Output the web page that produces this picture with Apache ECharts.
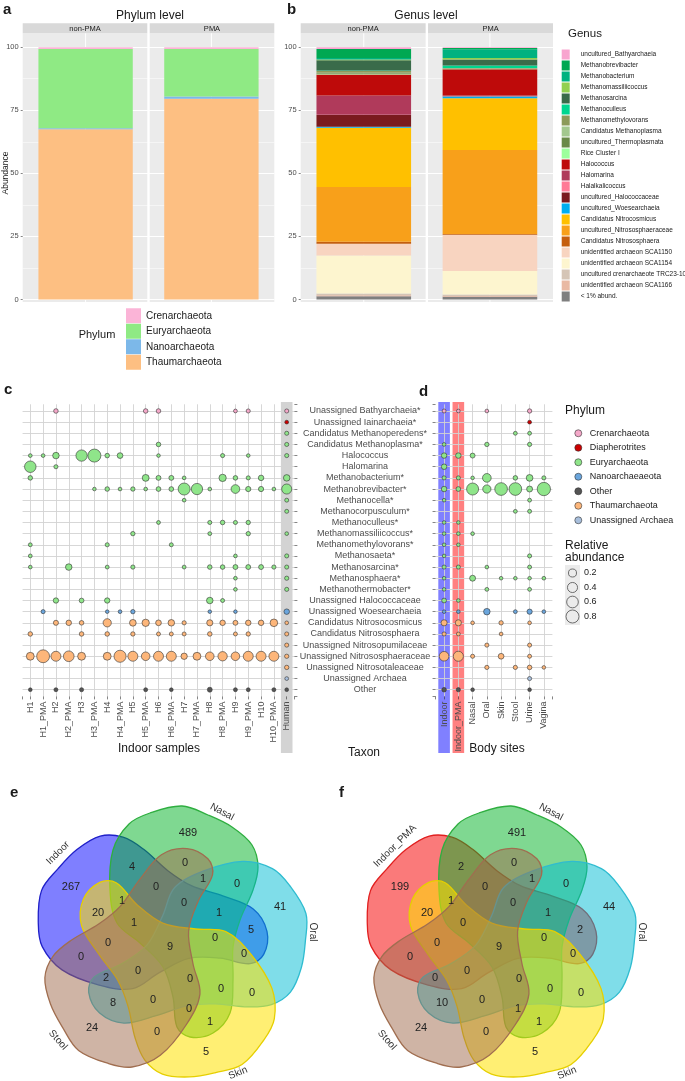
<!DOCTYPE html>
<html><head><meta charset="utf-8">
<script src="https://cdn.jsdelivr.net/npm/echarts@6/dist/echarts.min.js"></script>
<style>html,body{margin:0;padding:0;background:#fff}#chart{width:685px;height:1081px}</style>
</head><body><div id="chart"></div>
<script>
const FONT = '"Liberation Sans", Arial, Helvetica, sans-serif';

// ---------- Panel a : phylum level ----------
const facets = ['non-PMA', 'PMA'];
const phylaA = ['Crenarchaeota', 'Euryarchaeota', 'Nanoarchaeota', 'Thaumarchaeota'];
const phylaAColors = ['#fbb4d7', '#8fea84', '#7cb8e9', '#fdbf82'];
const phylumNonPMA = [0.7, 31.4, 0.4, 67.5];
const phylumPMA = [0.7, 18.8, 0.9, 79.6];
const abundanceTicks = [0, 25, 50, 75, 100];

// ---------- Panel b : genus level ----------
const genera = ['uncultured_Bathyarchaeia', 'Methanobrevibacter', 'Methanobacterium', 'Methanomassiliicoccus',
  'Methanosarcina', 'Methanoculleus', 'Methanomethylovorans', 'Candidatus Methanoplasma', 'uncultured_Thermoplasmata',
  'Rice Cluster I', 'Halococcus', 'Halomarina', 'Halalkalicoccus', 'uncultured_Halococcaceae', 'uncultured_Woesearchaeia',
  'Candidatus Nitrocosmicus', 'uncultured_Nitrososphaeraceae', 'Candidatus Nitrososphaera', 'unidentified archaeon SCA1150',
  'unidentified archaeon SCA1154', 'uncultured crenarchaeote TRC23-10', 'unidentified archaeon SCA1166', '< 1% abund.'];
const genusColors = ['#f8a5cf', '#00a852', '#00b280', '#92d050', '#3a6b4a', '#00d68f', '#8c9a5a', '#a3c88e', '#698a47',
  '#9cff9c', '#be0a0a', '#b03a5b', '#ff7b96', '#7a1a1e', '#00aeef', '#ffc000', '#f8a01a', '#c55e0e', '#f8d4c0',
  '#fdf5cf', '#d5c5b6', '#e9b9a3', '#7f7f7f'];
const genusNonPMA = [0.7, 3.55, 0.65, 0.3, 4.0, 0.2, 0.7, 0.2, 0.3, 0.2, 8.3, 7.7, 0.1, 4.6, 0.4, 23.5, 21.7, 0.8, 4.7, 15.0, 0.7, 0.4, 1.3];
const genusPMA = [0.3, 0.5, 3.5, 0.6, 2.4, 0.9, 0.2, 0.1, 0.1, 0.1, 10.4, 0.2, 0.1, 0.1, 0.7, 20.5, 33.3, 0.3, 14.4, 9.3, 0.6, 0.3, 1.1];

// ---------- Panels c / d : bubble matrices ----------
const cSamples = ['H1', 'H1_PMA', 'H2', 'H2_PMA', 'H3', 'H3_PMA', 'H4', 'H4_PMA', 'H5', 'H5_PMA', 'H6', 'H6_PMA',
  'H7', 'H7_PMA', 'H8', 'H8_PMA', 'H9', 'H9_PMA', 'H10', 'H10_PMA', 'Human'];
const dSites = ['Indoor', 'Indoor_PMA', 'Nasal', 'Oral', 'Skin', 'Stool', 'Urine', 'Vagina'];
const taxa = ['Unassigned Bathyarchaeia*', 'Unassigned Iainarchaeia*', 'Candidatus Methanoperedens*', 'Candidatus Methanoplasma*',
  'Halococcus', 'Halomarina', 'Methanobacterium*', 'Methanobrevibacter*', 'Methanocella*', 'Methanocorpusculum*',
  'Methanoculleus*', 'Methanomassiliicoccus*', 'Methanomethylovorans*', 'Methanosaeta*', 'Methanosarcina*',
  'Methanosphaera*', 'Methanothermobacter*', 'Unassigned Halococcaceae', 'Unassigned Woesearchaeia',
  'Candidatus Nitrosocosmicus', 'Candidatus Nitrososphaera', 'Unassigned Nitrosopumilaceae',
  'Unassigned Nitrososphaeraceae', 'Unassigned Nitrosotaleaceae', 'Unassigned Archaea', 'Other'];
const taxonPhylum = ['Crenarchaeota', 'Diapherotrites',
  'Euryarchaeota', 'Euryarchaeota', 'Euryarchaeota', 'Euryarchaeota', 'Euryarchaeota', 'Euryarchaeota', 'Euryarchaeota', 'Euryarchaeota',
  'Euryarchaeota', 'Euryarchaeota', 'Euryarchaeota', 'Euryarchaeota', 'Euryarchaeota', 'Euryarchaeota', 'Euryarchaeota', 'Euryarchaeota',
  'Nanoarchaeaeota', 'Thaumarchaeota', 'Thaumarchaeota', 'Thaumarchaeota', 'Thaumarchaeota', 'Thaumarchaeota',
  'Unassigned Archaea', 'Other'];
const phylaC = ['Crenarchaeota', 'Diapherotrites', 'Euryarchaeota', 'Nanoarchaeaeota', 'Other', 'Thaumarchaeota', 'Unassigned Archaea'];
const phylaCColors = ['#f4a8c9', '#cc0000', '#8fe58a', '#6aa5dc', '#545454', '#fdb67a', '#a8bfdc'];
const sizeLegendValues = [0.2, 0.4, 0.6, 0.8];

// rows = taxa, columns = cSamples
const indoorAbund = [
  [0, 0, .02, 0, 0, 0, 0, 0, 0, .02, .02, 0, 0, 0, 0, 0, .005, .01, 0, 0, .01],
  [0, 0, 0, 0, 0, 0, 0, 0, 0, 0, 0, 0, 0, 0, 0, 0, 0, 0, 0, 0, .005],
  [0, 0, 0, 0, 0, 0, 0, 0, 0, 0, 0, 0, 0, 0, 0, 0, 0, 0, 0, 0, .01],
  [0, 0, 0, 0, 0, 0, 0, 0, 0, 0, .02, 0, 0, 0, 0, 0, 0, 0, 0, 0, .01],
  [.004, .004, .1, 0, .55, .8, .02, .06, 0, 0, .003, 0, 0, 0, 0, .01, 0, .003, 0, 0, .01],
  [.58, 0, .01, 0, 0, 0, 0, 0, 0, 0, 0, 0, 0, 0, 0, 0, 0, 0, 0, 0, 0],
  [.02, 0, 0, 0, 0, 0, 0, 0, 0, .12, .03, .03, .004, 0, 0, .15, .02, .01, .05, 0, .1],
  [0, 0, 0, 0, 0, .003, .02, .004, .015, .004, .025, .025, .65, .55, .004, 0, .26, .04, .04, .004, .4],
  [0, 0, 0, 0, 0, 0, 0, 0, 0, 0, 0, 0, .004, 0, 0, 0, 0, 0, 0, 0, .008],
  [0, 0, 0, 0, 0, 0, 0, 0, 0, 0, 0, 0, 0, 0, 0, 0, 0, 0, 0, 0, .008],
  [0, 0, 0, 0, 0, 0, 0, 0, 0, 0, .006, 0, 0, 0, .01, .02, .01, .015, 0, 0, 0],
  [0, 0, 0, 0, 0, 0, 0, 0, .015, 0, 0, 0, 0, 0, .006, 0, 0, .015, 0, 0, .004],
  [.006, 0, 0, 0, 0, 0, .01, 0, 0, 0, 0, .008, 0, 0, 0, 0, 0, 0, 0, 0, 0],
  [.005, 0, 0, 0, 0, 0, 0, 0, 0, 0, 0, 0, 0, 0, 0, 0, .004, 0, 0, 0, .01],
  [.004, 0, 0, .1, 0, 0, .006, 0, .012, 0, 0, 0, .006, 0, .02, .02, .03, .03, .03, .012, .01],
  [0, 0, 0, 0, 0, 0, 0, 0, 0, 0, 0, 0, 0, 0, 0, 0, .004, 0, 0, 0, .012],
  [0, 0, 0, 0, 0, 0, 0, 0, 0, 0, 0, 0, 0, 0, 0, 0, .004, 0, 0, 0, .01],
  [0, 0, .045, 0, .025, 0, .045, 0, 0, 0, 0, 0, 0, 0, .1, .008, 0, 0, 0, 0, 0],
  [0, .01, 0, 0, 0, 0, .003, .004, .015, 0, 0, 0, 0, 0, .003, 0, .003, 0, 0, 0, .05],
  [0, 0, .035, .05, .02, 0, .22, 0, .11, .15, .06, .1, .012, 0, .08, .05, .03, .05, .05, .17, .004],
  [.02, 0, 0, 0, .02, 0, .02, 0, .015, 0, .008, .008, .008, 0, .02, 0, .008, .015, 0, 0, .01],
  [0, 0, 0, 0, 0, 0, 0, 0, 0, 0, 0, 0, 0, 0, 0, 0, 0, 0, 0, 0, .01],
  [.19, .78, .39, .47, .19, 0, .19, .66, .39, .25, .39, .39, .09, .19, .25, .32, .25, .39, .39, .39, .013],
  [0, 0, 0, 0, 0, 0, 0, 0, 0, 0, 0, 0, 0, 0, 0, 0, 0, 0, 0, 0, .015],
  [0, 0, 0, 0, 0, 0, 0, 0, 0, 0, 0, 0, 0, 0, 0, 0, 0, 0, 0, 0, .005],
  [.004, 0, .008, 0, .01, 0, 0, 0, 0, .008, 0, .004, 0, 0, .03, 0, .008, .006, 0, .008, .004]
];
// rows = taxa, columns = dSites
const siteAbund = [
  [.008, .004, 0, .004, 0, 0, .015, 0],
  [0, 0, 0, 0, 0, 0, .006, 0],
  [0, 0, 0, 0, 0, .006, .006, 0],
  [.004, 0, 0, .015, 0, 0, .012, 0],
  [.05, .05, .03, 0, 0, 0, 0, 0],
  [.05, 0, 0, 0, 0, 0, 0, 0],
  [.01, .01, .003, .26, 0, .02, .11, .01],
  [.05, .025, .65, .22, .75, .75, .07, .85],
  [.003, 0, 0, 0, 0, 0, .006, 0],
  [0, 0, 0, 0, 0, .006, .008, 0],
  [.003, .003, 0, 0, 0, 0, 0, 0],
  [.003, .004, .004, 0, 0, 0, 0, 0],
  [.003, .003, 0, 0, 0, 0, 0, 0],
  [.003, 0, 0, 0, 0, 0, .01, 0],
  [.01, .01, 0, .004, 0, 0, .008, 0],
  [.003, 0, .07, 0, .003, .003, .003, .004],
  [.003, 0, 0, .006, 0, 0, .006, 0],
  [.025, .004, 0, 0, 0, 0, 0, 0],
  [.003, .004, 0, .1, 0, .006, .04, .004],
  [.08, .08, .004, 0, .015, 0, .004, 0],
  [.01, .006, 0, 0, .004, 0, 0, 0],
  [0, 0, 0, .01, 0, 0, .01, 0],
  [.35, .4, .01, 0, .06, 0, .008, 0],
  [0, 0, 0, .012, 0, .012, .02, .003],
  [0, 0, 0, 0, 0, 0, .01, 0],
  [.02, .012, .004, 0, 0, 0, .004, 0]
];

// ---------- Panels e / f : Venn counts ----------
const vennSetsE = ['Indoor', 'Nasal', 'Oral', 'Skin', 'Stool'];
const vennSetsF = ['Indoor_PMA', 'Nasal', 'Oral', 'Skin', 'Stool'];
const vennCountsE = [489, 267, 41, 24, 5, 4, 0, 1, 0, 0, 1, 20, 0, 1, 1, 5, 0, 9, 0, 0, 0, 0, 2, 0, 0, 0, 8, 0, 0, 1, 0];
const vennCountsF = [491, 199, 44, 24, 5, 2, 0, 1, 0, 0, 1, 20, 0, 1, 0, 2, 0, 9, 0, 0, 0, 0, 0, 0, 0, 0, 10, 0, 1, 1, 0];

// ---------- layout (positions / shapes / styles) ----------
const vennRegionPos = [[18, -112], [-99, -58], [110, -38], [-78, 83], [36, 107], [-38, -78], [15, -82], [33, -66], [67, -61],
  [-14, -58], [-48, -44], [-72, -32], [14, -42], [49, -32], [-36, -22], [81, -15], [-62, -2], [0, 2], [45, -7], [-89, 12],
  [74, 9], [-32, 26], [-64, 33], [20, 34], [51, 44], [82, 48], [-57, 58], [-17, 55], [19, 64], [40, 77], [-13, 87]];
const vennShape = [[38, -130], [62, -118], [82, -100], [88, -78], [83, -55], [70, -25], [63, 2], [63, 35], [60, 68], [43, 88],
  [20, 92], [7, 82], [3, 52], [-7, 22], [-30, -2], [-53, -22], [-60, -55], [-57, -95], [-41, -121], [-20, -132], [12, -139]];
const vennAngles = [-72, 0, 72, 144, 216];
const vennLabelPos = [[-112, -92, 45], [52, -133, -28], [143, -13, -90], [68, 128, 22], [-112, 95, -48]];

const chart = echarts.init(document.getElementById('chart'), null, {renderer: 'canvas', width: 685, height: 1081});

const G = {
  a: {left: 22.7, top: 47.2, width: 251.6, height: 252.3},
  b: {left: 300.7, top: 47.2, width: 252.3, height: 252.3},
  c: {left: 22.6, top: 404.3, width: 271.8, height: 292.1},
  d: {left: 435.55, top: 404.3, width: 116.85, height: 292.1}
};
const elements = [];
function text(x, y, s, o) {
  o = o || {};
  elements.push({type: 'text', x: x, y: y, z: o.z == null ? 20 : o.z, rotation: (o.rot || 0) * Math.PI / 180,
    style: {text: s, fill: o.color || '#1a1a1a', fontSize: o.size || 10, fontFamily: FONT, fontWeight: o.weight || 'normal',
      align: o.align || 'left', verticalAlign: o.valign || 'middle', lineHeight: o.lh}});
}
function rect(x, y, w, h, fill, z) {
  elements.push({type: 'rect', z: z, shape: {x: x, y: y, width: w, height: h}, style: {fill: fill}});
}

// facet panels for a and b
[['a', G.a], ['b', G.b]].forEach(function (p) {
  const g = p[1];
  const half = g.width / 2;
  for (let i = 0; i < 2; i++) {
    const x0 = g.left + i * half + (i === 0 ? 0 : 1.2);
    const w = half - 1.2;
    rect(x0, 33.3, w, 268.7, '#ebebeb', -3);
    rect(x0, 23.3, w, 10, '#d9d9d9', -3);
    text(x0 + w / 2, 28.5, facets[i], {size: 7.5, align: 'center'});
    const cx = g.left + half * (i + 0.5);
    elements.push({type: 'line', z: -2, shape: {x1: cx, y1: 33.3, x2: cx, y2: 302}, style: {stroke: '#fff', lineWidth: 1}});
  }
});
text(3, 10, 'a', {size: 15, weight: 'bold'});
text(287, 10, 'b', {size: 15, weight: 'bold'});
text(150, 16, 'Phylum level', {size: 12, align: 'center'});
text(426, 16, 'Genus level', {size: 12, align: 'center'});
text(6, 173, 'Abundance', {size: 8.5, align: 'center', rot: 90});
text(97, 335, 'Phylum', {size: 11, align: 'center'});
text(568, 34, 'Genus', {size: 11.5});

// c / d decorations
text(4, 390, 'c', {size: 15, weight: 'bold'});
text(419, 392, 'd', {size: 15, weight: 'bold'});
const colW = G.c.width / 21.2;
rect(G.c.left + (21 - 0.4) * colW - 5.8, 402, 11.6, 351, '#d3d3d3', -1);
const dColW = G.d.width / 8.2;
rect(G.d.left + 0.6 * dColW - 5.8, 402, 11.6, 351, '#8080ff', -1);
rect(G.d.left + 1.6 * dColW - 5.8, 402, 11.6, 351, '#ff8080', -1);
text(159, 749, 'Indoor samples', {size: 12, align: 'center'});
text(364, 753, 'Taxon', {size: 12, align: 'center'});
text(497, 749, 'Body sites', {size: 12, align: 'center'});
text(565, 411, 'Phylum', {size: 12});
text(565, 552, 'Relative\nabundance', {size: 12, lh: 12});
rect(565, 565, 15, 60, '#ebebeb', 5);
const bubble = function (v) { return 3 + 11.2 * Math.sqrt(v); };
sizeLegendValues.forEach(function (v, i) {
  const y = 573 + i * 14.5;
  elements.push({type: 'circle', z: 6, shape: {cx: 572.5, cy: y, r: bubble(v) / 2}, style: {fill: 'none', stroke: '#4d4d4d', lineWidth: 0.8}});
  text(584, y, String(v), {size: 9});
});

// Venn diagrams
function rot(pt, deg) {
  const a = deg * Math.PI / 180;
  return [pt[0] * Math.cos(a) - pt[1] * Math.sin(a), pt[0] * Math.sin(a) + pt[1] * Math.cos(a)];
}
function venn(cx, cy, sets, counts, fills, strokes, label, labelPos) {
  sets.forEach(function (s, k) {
    const pts = vennShape.map(function (p) { const r = rot(p, vennAngles[k]); return [cx + r[0], cy + r[1]]; });
    elements.push({type: 'polygon', z: 8, shape: {points: pts, smooth: 0.35},
      style: {fill: fills[k], stroke: strokes[k], lineWidth: 1.3}});
    const lp = labelPos[k];
    text(cx + lp[0], cy + lp[1], s, {size: 10, align: 'center', rot: lp[2], color: '#333'});
  });
  counts.forEach(function (n, i) {
    text(cx + vennRegionPos[i][0], cy + vennRegionPos[i][1], String(n), {size: 11, align: 'center', color: '#222'});
  });
  text(cx - 160, cy - 152, label, {size: 15, weight: 'bold'});
}
const baseFills = ['rgba(0,178,36,0.5)', 'rgba(0,188,212,0.5)', 'rgba(255,226,0,0.55)', 'rgba(160,105,75,0.5)'];
const baseStrokes = ['#2fae40', '#2fbcd0', '#e6cf00', '#a06e50'];
venn(170, 945, vennSetsE, vennCountsE, ['rgba(0,0,255,0.5)'].concat(baseFills), ['#2020c8'].concat(baseStrokes), 'e', vennLabelPos);
const labelPosF = vennLabelPos.slice(); labelPosF[0] = [-104, -99, 45];
venn(499, 945, vennSetsF, vennCountsF, ['rgba(245,0,0,0.52)'].concat(baseFills), ['#e02020'].concat(baseStrokes), 'f', labelPosF);

// ---------- series ----------
const series = [];
for (let i = phylaA.length - 1; i >= 0; i--) {
  series.push({type: 'bar', name: phylaA[i], stack: 'a', xAxisIndex: 0, yAxisIndex: 0, barWidth: '75%',
    data: [phylumNonPMA[i], phylumPMA[i]], itemStyle: {color: phylaAColors[i], borderWidth: 0}});
}
for (let i = genera.length - 1; i >= 0; i--) {
  series.push({type: 'bar', name: genera[i], stack: 'b', xAxisIndex: 1, yAxisIndex: 1, barWidth: '75%',
    data: [genusNonPMA[i], genusPMA[i]], itemStyle: {color: genusColors[i], borderWidth: 0}});
}
function bubbles(matrix, axisIdx) {
  phylaC.forEach(function (ph, k) {
    const data = [];
    matrix.forEach(function (row, r) {
      if (taxonPhylum[r] !== ph) return;
      row.forEach(function (v, c) { if (v > 0) data.push([c + 1, r + 1, v]); });
    });
    series.push({type: 'scatter', name: ph, xAxisIndex: axisIdx, yAxisIndex: axisIdx, data: data,
      symbolSize: function (val) { return bubble(val[2]); },
      itemStyle: {color: phylaCColors[k], borderColor: '#333', borderWidth: 0.6, opacity: 1}, z: 4});
  });
}
bubbles(indoorAbund, 2);
bubbles(siteAbund, 3);

function catLabel(list) {
  return function (v) { const r = Math.round(v); return (Math.abs(v - r) < 1e-6 && r >= 1 && r <= list.length) ? list[r - 1] : ''; };
}
const gridLine = {show: true, showMinLine: false, showMaxLine: false, lineStyle: {color: '#d3d3d3', width: 0.9}};
const tick = {show: true, length: 3, lineStyle: {color: '#333', width: 0.6}};
function valueAxis(gi, n, extra) {
  return Object.assign({type: 'value', gridIndex: gi, min: 0.4, max: n + 0.6, minInterval: 1, maxInterval: 1,
    axisLine: {show: false}, axisTick: tick, splitLine: gridLine}, extra);
}
function abundanceAxis(gi, showLabel) {
  return {type: 'value', gridIndex: gi, min: abundanceTicks[0], max: abundanceTicks[abundanceTicks.length - 1], interval: 25,
    axisLine: {show: false}, axisTick: {show: true, length: 2, lineStyle: {color: '#333', width: 0.6}},
    axisLabel: {show: showLabel, fontSize: 7.5, color: '#4d4d4d', margin: 4, fontFamily: FONT},
    splitLine: {show: true, lineStyle: {color: '#ffffff', width: 1.1}},
    minorTick: {show: false, splitNumber: 2}, minorSplitLine: {show: true, lineStyle: {color: '#ffffff', width: 0.5}}};
}
function facetAxis(gi) {
  return {type: 'category', gridIndex: gi, data: facets, axisLine: {show: false}, axisTick: {show: false},
    axisLabel: {show: false}, splitLine: {show: false}};
}
const gridOf = function (g) { return Object.assign({outerBoundsMode: 'none', containLabel: false}, g); };

const option = {
  animation: false,
  backgroundColor: '#ffffff',
  textStyle: {fontFamily: FONT},
  grid: [gridOf(G.a), gridOf(G.b), gridOf(G.c), gridOf(G.d)],
  xAxis: [facetAxis(0), facetAxis(1),
    valueAxis(2, 21, {axisLabel: {rotate: 90, fontSize: 9, color: '#4d4d4d', margin: 5, formatter: catLabel(cSamples)}}),
    valueAxis(3, 8, {axisLabel: {rotate: 90, fontSize: 9, color: '#4d4d4d', margin: 5, formatter: catLabel(dSites)}})],
  yAxis: [abundanceAxis(0, true), abundanceAxis(1, true),
    valueAxis(2, 26, {inverse: true, position: 'right', axisLabel: {show: false}}),
    valueAxis(3, 26, {inverse: true, position: 'left',
      axisLabel: {align: 'center', margin: 70.5, fontSize: 9, color: '#4d4d4d', formatter: catLabel(taxa)}})],
  legend: [
    {orient: 'vertical', left: 121, top: 303, itemWidth: 15, itemHeight: 15, itemGap: 0, selectedMode: false,
      textStyle: {fontSize: 10, color: '#1a1a1a', lineHeight: 15.5},
      data: phylaA.map(function (n, i) { return {name: n, icon: 'rect', itemStyle: {color: phylaAColors[i], borderWidth: 0}}; })},
    {orient: 'vertical', left: 556.7, top: 44, itemWidth: 8, itemHeight: 10, itemGap: 0, selectedMode: false,
      textStyle: {fontSize: 6.5, color: '#1a1a1a', lineHeight: 11, padding: [0, 0, 0, 6]},
      data: genera.map(function (n, i) { return {name: n, icon: 'rect', itemStyle: {color: genusColors[i], borderWidth: 0}}; })},
    {orient: 'vertical', left: 569.5, top: 421, itemWidth: 7, itemHeight: 7, itemGap: 0, selectedMode: false,
      textStyle: {fontSize: 9, color: '#1a1a1a', lineHeight: 14.5, padding: [0, 0, 0, 3]},
      data: phylaC.map(function (n, i) { return {name: n, icon: 'circle', itemStyle: {color: phylaCColors[i], borderColor: '#333', borderWidth: 0.6}}; })}
  ],
  graphic: {elements: elements},
  series: series
};
chart.setOption(option);
</script>
</body></html>
